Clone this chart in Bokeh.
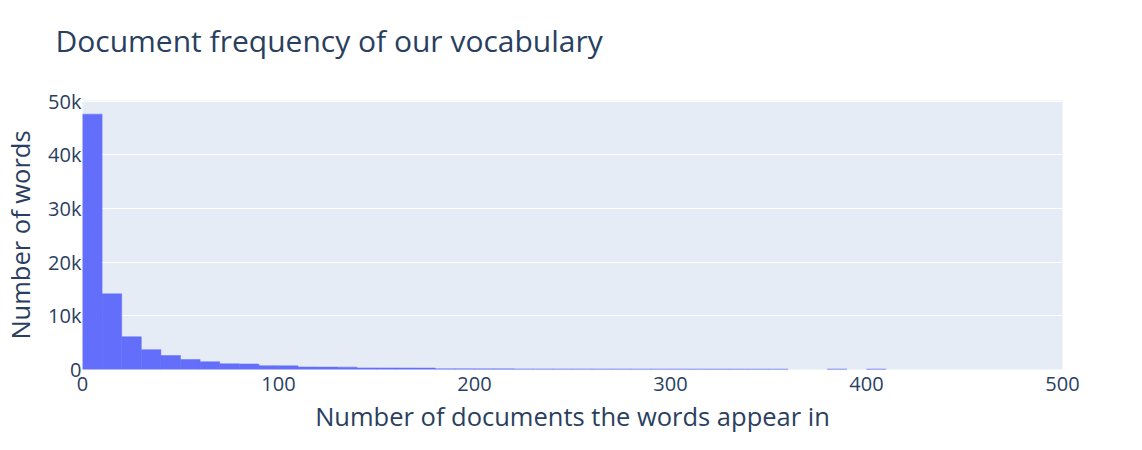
from bokeh.plotting import figure
from bokeh.models import FixedTicker, Title, ColumnDataSource, Range1d
from bokeh.embed import file_html
from bokeh.resources import INLINE

# ---- data ----
bin_start = list(range(0, 500, 10))
bin_width = 10
counts = [47600, 14100, 6100, 3700, 2600, 1850, 1450, 1050, 1020, 700,
          680, 470, 450, 440, 300, 290, 280, 270, 130, 125,
          120, 120, 115, 110, 110, 105, 100, 100, 95, 95,
          90, 90, 85, 85, 80, 80, 0, 0, 90, 0,
          90, 0, 0, 0, 0, 0, 0, 0, 0, 0]
x_ticks = [0, 100, 200, 300, 400, 500]
y_ticks = [0, 10000, 20000, 30000, 40000, 50000]
y_tick_labels = ["0", "10k", "20k", "30k", "40k", "50k"]
title_text = "Document frequency of our vocabulary"
x_label = "Number of documents the words appear in"
y_label = "Number of words"

TEXT = "#2a3f5f"
FONT = "Open Sans"
BAR = "#636efa"

src = ColumnDataSource(dict(
    left=bin_start,
    right=[b + bin_width for b in bin_start],
    top=counts,
    bottom=[0] * len(counts),
    stroke=[1.0 if c > 0 else 0.0 for c in counts],
))

p = figure(frame_width=980, frame_height=269,
           min_border_left=82, min_border_right=80,
           min_border_top=100, min_border_bottom=81,
           x_range=Range1d(0, 500), y_range=Range1d(0, 50150),
           output_backend="svg", toolbar_location=None,
           background_fill_color="#e5ecf6", border_fill_color="white")
p.outline_line_color = None

p.quad(left="left", right="right", top="top", bottom="bottom", source=src,
       fill_color=BAR, line_color=BAR, line_width=0.5, line_alpha="stroke")

p.title = Title(text=title_text, text_font=FONT, text_font_size="30px",
                text_color=TEXT, text_font_style="normal", align="left",
                vertical_align="top", offset=-27, standoff=20)
# invisible spacer panel between the frame and the title
spacer = Title(text=" ", text_font_size="1px", standoff=25)
p.add_layout(spacer, "above")

p.xgrid.visible = False
p.ygrid.grid_line_color = "white"
p.ygrid.grid_line_width = 1
p.ygrid.ticker = FixedTicker(ticks=y_ticks)

for ax in (p.xaxis[0], p.yaxis[0]):
    ax.axis_line_color = None
    ax.major_tick_line_color = None
    ax.minor_tick_line_color = None
    ax.major_tick_out = 0
    ax.major_tick_in = 0
    ax.minor_tick_out = 0
    ax.major_label_text_font = FONT
    ax.major_label_text_font_size = "20px"
    ax.major_label_text_color = TEXT
    ax.axis_label_text_font = FONT
    ax.axis_label_text_font_size = "25.5px"
    ax.axis_label_text_color = TEXT
    ax.axis_label_text_font_style = "normal"

p.xaxis[0].ticker = FixedTicker(ticks=x_ticks)
p.xaxis[0].axis_label = x_label
p.xaxis[0].major_label_standoff = 7
p.xaxis[0].axis_label_standoff = 5

p.yaxis[0].ticker = FixedTicker(ticks=y_ticks)
p.yaxis[0].major_label_overrides = {t: l for t, l in zip(y_ticks, y_tick_labels)}
p.yaxis[0].axis_label = y_label
p.yaxis[0].major_label_standoff = 1
p.yaxis[0].axis_label_standoff = 8

open("out.html", "w").write(file_html(p, INLINE))
